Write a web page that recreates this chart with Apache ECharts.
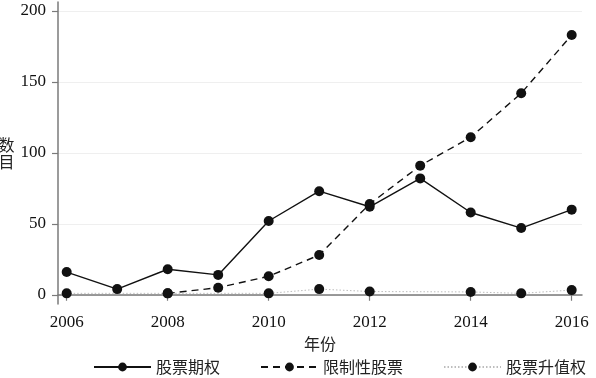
<!DOCTYPE html>
<html>
<head>
<meta charset="utf-8">
<script src="https://cdn.jsdelivr.net/npm/echarts@6/dist/echarts.min.js"></script>
<style>html,body{margin:0;padding:0;background:#fff}#c{width:596px;height:378px}</style>
</head>
<body>
<div id="c"></div>
<script>
const years = [2006, 2007, 2008, 2009, 2010, 2011, 2012, 2013, 2014, 2015, 2016];
const xTicks = [2006, 2008, 2010, 2012, 2014, 2016];
const yTicks = [0, 50, 100, 150, 200];
const optionsStock = [16, 4, 18, 14, 52, 73, 62, 82, 58, 47, 60];
const restricted = [null, null, 1, 5, 13, 28, 64, 91, 111, 142, 183];
const sar = [1, null, 1, null, 1, 4, 2.3, null, 2, 1, 3.3];
const names = ['股票期权', '限制性股票', '股票升值权'];

const pair = arr => years.map((y, i) => [y, arr[i]]);
const FONT = 'Liberation Serif';
const CJK = 'Noto Sans CJK SC';
const axisColor = '#7a7a7a';

const chart = echarts.init(document.getElementById('c'));
chart.setOption({
  animation: false,
  backgroundColor: '#fff',
  grid: {left: 58, right: 14, top: 2, bottom: 74, containLabel: false, outerBoundsMode: 'none'},
  xAxis: {
    type: 'value', min: 2005.828, max: 2016.204,
    name: '年份', nameLocation: 'middle', nameGap: 28,
    nameTextStyle: {fontFamily: CJK, fontSize: 16, color: '#222'},
    axisLine: {show: true, lineStyle: {color: axisColor, width: 1.5}},
    axisTick: {show: true, length: 6, customValues: xTicks, lineStyle: {color: axisColor, width: 1.2}},
    axisLabel: {customValues: xTicks, margin: 10, fontFamily: FONT, fontSize: 17, color: '#111',
      formatter: v => String(v)},
    splitLine: {show: false}
  },
  yAxis: {
    type: 'value', min: -6.5, max: 206.3,
    name: '数\n目', nameLocation: 'middle', nameGap: 40, nameRotate: 0,
    nameTextStyle: {fontFamily: CJK, fontSize: 16, color: '#222', lineHeight: 17, align: 'right'},
    axisLine: {show: true, lineStyle: {color: axisColor, width: 1.5}},
    axisTick: {show: true, length: 6, customValues: yTicks, lineStyle: {color: axisColor, width: 1.2}},
    axisLabel: {customValues: yTicks, margin: 12, fontFamily: FONT, fontSize: 17, color: '#111'},
    splitLine: {show: true, lineStyle: {color: '#efefef', width: 1}}
  },
  legend: {
    bottom: -2, left: 88, itemGap: 40, itemWidth: 57, itemHeight: 11,
    textStyle: {fontFamily: CJK, fontSize: 16, color: '#222'},
    data: names
  },
  series: [
    {name: names[0], type: 'line', data: pair(optionsStock), symbol: 'circle', symbolSize: 10,
      itemStyle: {color: '#111'}, lineStyle: {color: '#111', width: 1.4, type: 'solid'}},
    {name: names[1], type: 'line', data: pair(restricted), symbol: 'circle', symbolSize: 10,
      itemStyle: {color: '#111'}, lineStyle: {color: '#111', width: 1.4, type: [7, 5]}},
    {name: names[2], type: 'line', data: pair(sar), connectNulls: true, symbol: 'circle', symbolSize: 10,
      itemStyle: {color: '#111'}, lineStyle: {color: '#bdbdbd', width: 1, type: [1.5, 2]}}
  ]
});
</script>
</body>
</html>
